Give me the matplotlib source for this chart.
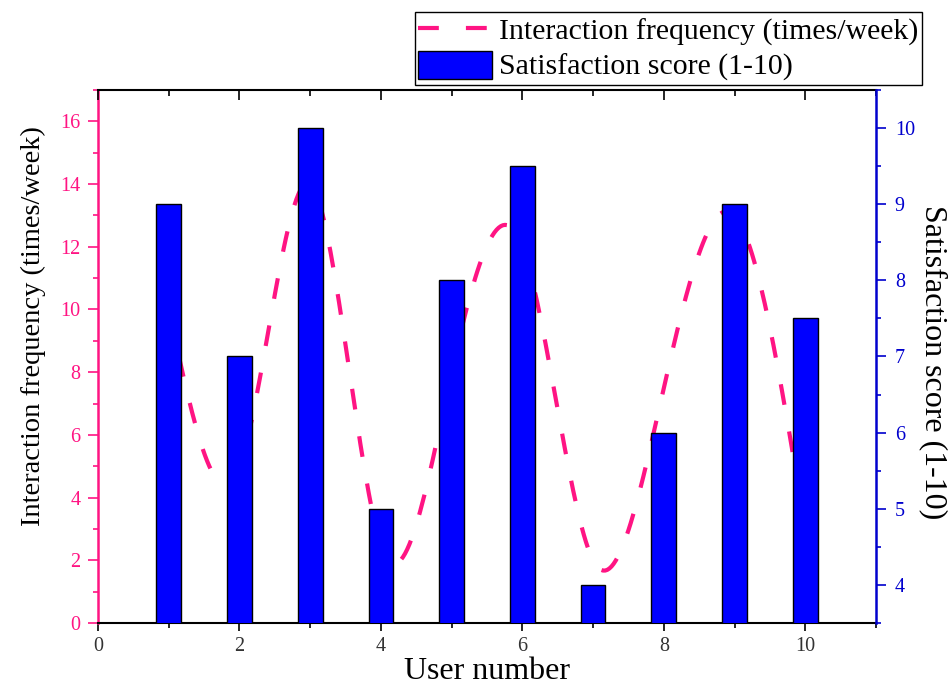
import numpy as np
import matplotlib
matplotlib.use("Agg")
import matplotlib.pyplot as plt
from matplotlib.ticker import MultipleLocator

plt.rcParams['font.family'] = ['Liberation Serif', 'DejaVu Serif']

# data
users = [1, 2, 3, 4, 5, 6, 7, 8, 9, 10]
frequency = [10, 5, 14, 2.5, 8, 12, 2, 7.5, 13, 3]          # times/week
satisfaction = [9, 7, 10, 5, 8, 9.5, 4, 6, 9, 7.5]          # score 1-10

pink = '#FF1483'
blue = '#0000CD'


def smooth_curve(xs, ys, n=300):
    # natural cubic spline through the points, only used to draw a smooth line
    x = np.asarray(xs, float)
    y = np.asarray(ys, float)
    m = len(x)
    h = np.diff(x)
    A = np.zeros((m, m))
    b = np.zeros(m)
    A[0, 0] = 1
    A[-1, -1] = 1
    for i in range(1, m - 1):
        A[i, i - 1] = h[i - 1]
        A[i, i] = 2 * (h[i - 1] + h[i])
        A[i, i + 1] = h[i]
        b[i] = 6 * ((y[i + 1] - y[i]) / h[i] - (y[i] - y[i - 1]) / h[i - 1])
    M = np.linalg.solve(A, b)
    xx = np.linspace(x[0], x[-1], n)
    i = np.clip(np.searchsorted(x, xx) - 1, 0, m - 2)
    t0 = x[i + 1] - xx
    t1 = xx - x[i]
    hi = h[i]
    yy = ((M[i] * t0 ** 3 + M[i + 1] * t1 ** 3) / (6 * hi)
          + (y[i] / hi - M[i] * hi / 6) * t0
          + (y[i + 1] / hi - M[i + 1] * hi / 6) * t1)
    return xx, yy


fig = plt.figure(figsize=(9.52, 6.97), dpi=100)
ax = fig.add_axes([98 / 952, 1 - 623 / 697, 778 / 952, 533 / 697])
ax2 = ax.twinx()

xs, ys = smooth_curve(users, frequency)
line, = ax.plot(xs, ys, color=pink, lw=3, linestyle=(0, (5, 6.5)),
                label='Interaction frequency (times/week)')
bars = ax2.bar(users, satisfaction, width=0.35, color='#0000FF',
               edgecolor='black', linewidth=1, label='Satisfaction score (1-10)')

ax.set_xlim(0, 11)
ax.set_ylim(0, 17)
ax2.set_ylim(3.5, 10.5)

# x axis: bottom ticks out, top ticks in
ax.xaxis.set_major_locator(MultipleLocator(2))
ax.xaxis.set_minor_locator(MultipleLocator(1))
ax.tick_params(axis='x', which='both', bottom=True, top=False, direction='out',
               labelsize=14.5, labelcolor='#333333', width=1.2, pad=4)
ax.tick_params(axis='x', which='major', length=6)
ax.tick_params(axis='x', which='minor', length=3.5)
ax2.xaxis.set_visible(True)
ax2.tick_params(axis='x', which='both', bottom=False, top=True, labelbottom=False,
                labeltop=False, direction='in', width=1.2)
ax2.tick_params(axis='x', which='major', length=7.5)
ax2.tick_params(axis='x', which='minor', length=4)

# left axis (pink)
ax.yaxis.set_major_locator(MultipleLocator(2))
ax.yaxis.set_minor_locator(MultipleLocator(1))
ax.tick_params(axis='y', which='both', colors=pink, labelsize=14.5, width=1.2,
               direction='out', pad=5)
ax.tick_params(axis='y', which='major', length=7.5)
ax.tick_params(axis='y', which='minor', length=3.5)

# right axis (blue)
ax2.yaxis.set_major_locator(MultipleLocator(1))
ax2.yaxis.set_minor_locator(MultipleLocator(0.5))
ax2.tick_params(axis='y', which='both', colors=blue, labelsize=14.5, width=1.2,
                direction='out', pad=6)
ax2.tick_params(axis='y', which='major', length=7.5)
ax2.tick_params(axis='y', which='minor', length=3.5)

for s in ['left', 'top', 'bottom']:
    ax2.spines[s].set_visible(False)
ax.spines['right'].set_visible(False)
ax.spines['left'].set_color(pink)
ax.spines['left'].set_linewidth(1.8)
ax.spines['bottom'].set_linewidth(1.5)
ax.spines['top'].set_linewidth(1.5)
ax2.spines['right'].set_color(blue)
ax2.spines['right'].set_linewidth(1.8)

ax.set_xlabel('User number', fontsize=23, labelpad=1)
ax.set_ylabel('Interaction frequency (times/week)', fontsize=20.5, labelpad=10)
ax.yaxis.label.set_y(0.557)
ax2.set_ylabel('Satisfaction score (1-10)', fontsize=23, rotation=270, labelpad=24)
ax2.yaxis.label.set_y(0.49)

fig.legend(handles=[line, bars], loc='upper right',
           bbox_to_anchor=(922 / 952, 1 - 12.5 / 697), borderaxespad=0,
           fontsize=21.5, frameon=True, fancybox=False, edgecolor='black',
           framealpha=1, borderpad=0.12, labelspacing=0.15,
           handlelength=2.45, handleheight=1.05, handletextpad=0.25)

fig.savefig('out.png', dpi=100)
